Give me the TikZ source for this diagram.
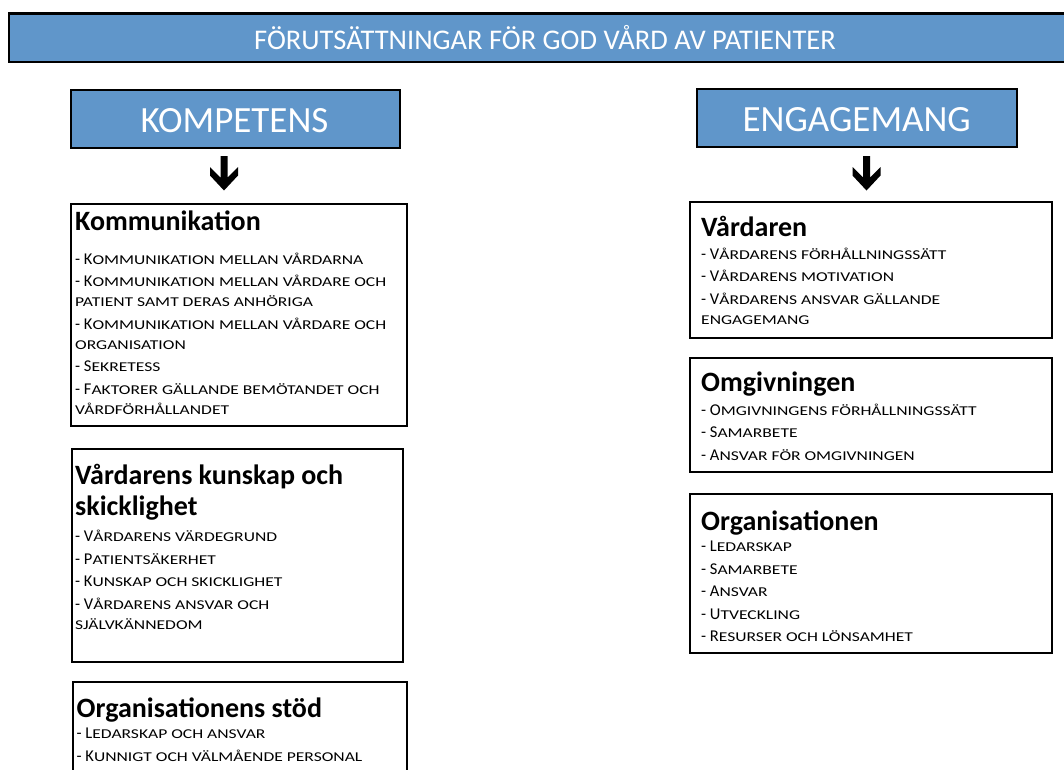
\documentclass[tikz,border=0pt]{standalone}
\usepackage{fontspec}
\setmainfont{Carlito}
\newfontfamily\scwide[FakeStretch=1.3]{Carlito}
\definecolor{hdrblue}{RGB}{96,150,202}

\newcommand\ttlfont{\fontsize{28}{31}\selectfont\bfseries}
\newcommand\itmfont{\fontsize{16.5}{20}\selectfont}
\newcommand\scpart{\scwide\fontsize{13.5}{20}\selectfont}
\newlength\itmgap \setlength\itmgap{2.5pt}
\newcommand\ttl[1]{\hbox{\ttlfont #1}}
\newcommand\tg[1]{\vskip\dimexpr #1pt-20pt-\itmgap\relax}
\newcommand\itm[2]{\vskip\itmgap\hbox{\itmfont - #1{\scpart #2}}}
\newcommand\cnt[1]{\hbox{\scpart #1}}
\newcommand\content[1]{\vtop{\baselineskip=20pt\lineskiplimit=-100pt\lineskip=0pt #1}}

\tikzset{
  box/.style={draw=black, line width=2pt, fill=white, inner sep=0pt},
  hdr/.style={draw=black, line width=2pt, fill=hdrblue, inner sep=0pt},
  hdrtext/.style={text=white, inner sep=0pt, anchor=base, font=\fontsize{37}{40}\selectfont},
  bantext/.style={text=white, inner sep=0pt, anchor=base, font=\fontsize{28.5}{30}\selectfont},
  cont/.style={inner sep=0pt, anchor=base west},
  arrowglyph/.style={fill=black}
}

\begin{document}
\begin{tikzpicture}[x=1pt,y=-1pt]
\useasboundingbox (0,0) rectangle (1064,769);
\fill[white] (0,0) rectangle (1064,769);
\clip (0,0) rectangle (1064,769);

% banner
\node[hdr, line width=2.2pt, minimum width=1066, minimum height=48.5] (banner) at (542,37.75) {};
\node[bantext] (bantxt) at (545,49) {FÖRUTSÄTTNINGAR FÖR GOD VÅRD AV PATIENTER};

% headers
\node[hdr, minimum width=329, minimum height=58] (komphdr) at (235,119) {};
\node[hdrtext] (komptxt) at (234.5,132.5) {KOMPETENS};
\node[hdr, minimum width=319.5, minimum height=58] (enghdr) at (856.75,117.5) {};
\node[hdrtext] (engtxt) at (856.7,131.5) {ENGAGEMANG};

% arrows
\coordinate (ka) at (224,156);
\coordinate (ea) at (866.5,156);
\foreach \c in {ka,ea}{
  \fill[arrowglyph] (\c) +(-3.5,0) -- +(3.5,0) -- +(3.5,21.5) -- +(14,11) -- +(14,19.5)
     -- +(0,34.5) -- +(-14,19.5) -- +(-14,11) -- +(-3.5,21.5) -- cycle;
}

% left boxes
\node[box, minimum width=335.5, minimum height=222] (kom) at (238.75,314.5) {};
\node[cont] (komtxt) at (75,230.7) {\content{%
  \ttl{Kommunikation}\tg{33.3}%
  \itm{K}{OMMUNIKATION MELLAN VÅRDARNA}%
  \itm{K}{OMMUNIKATION MELLAN VÅRDARE OCH}%
  \cnt{PATIENT SAMT DERAS ANHÖRIGA}%
  \itm{K}{OMMUNIKATION MELLAN VÅRDARE OCH}%
  \cnt{ORGANISATION}%
  \itm{S}{EKRETESS}%
  \itm{F}{AKTORER GÄLLANDE BEMÖTANDET OCH}%
  \cnt{VÅRDFÖRHÅLLANDET}}};

\node[box, minimum width=331, minimum height=213] (kun) at (237.5,555.5) {};
\node[cont] (kuntxt) at (75,484.5) {\content{%
  \ttl{Vårdarens kunskap och}\vskip11pt
  \ttl{skicklighet}\tg{26.3}%
  \itm{V}{ÅRDARENS VÄRDEGRUND}%
  \itm{P}{ATIENTSÄKERHET}%
  \itm{K}{UNSKAP OCH SKICKLIGHET}%
  \itm{V}{ÅRDARENS ANSVAR OCH}%
  \cnt{SJÄLVKÄNNEDOM}}};

\node[box, minimum width=334.5, minimum height=118.5] (org) at (239.75,740.75) {};
\node[cont] (orgtxt) at (76.5,717.5) {\content{%
  \ttl{Organisationens stöd}\tg{21}%
  \itm{L}{EDARSKAP OCH ANSVAR}%
  \itm{K}{UNNIGT OCH VÄLMÅENDE PERSONAL}}};

% right boxes
\node[box, minimum width=362, minimum height=136] (vard) at (871,270) {};
\node[cont] (vardtxt) at (701,236.7) {\content{%
  \ttl{Vårdaren}\tg{22.3}%
  \itm{V}{ÅRDARENS FÖRHÅLLNINGSSÄTT}%
  \itm{V}{ÅRDARENS MOTIVATION}%
  \itm{V}{ÅRDARENS ANSVAR GÄLLANDE}%
  \cnt{ENGAGEMANG}}};

\node[box, minimum width=362, minimum height=113.5] (omg) at (871,414.75) {};
\node[cont] (omgtxt) at (701,391.7) {\content{%
  \ttl{Omgivningen}\tg{23.3}%
  \itm{O}{MGIVNINGENS FÖRHÅLLNINGSSÄTT}%
  \itm{S}{AMARBETE}%
  \itm{A}{NSVAR FÖR OMGIVNINGEN}}};

\node[box, minimum width=362, minimum height=159] (orgn) at (871,573.5) {};
\node[cont] (orgntxt) at (701,530) {\content{%
  \ttl{Organisationen}\tg{21.7}%
  \itm{L}{EDARSKAP}%
  \itm{S}{AMARBETE}%
  \itm{A}{NSVAR}%
  \itm{U}{TVECKLING}%
  \itm{R}{ESURSER OCH LÖNSAMHET}}};
\end{tikzpicture}
\end{document}
